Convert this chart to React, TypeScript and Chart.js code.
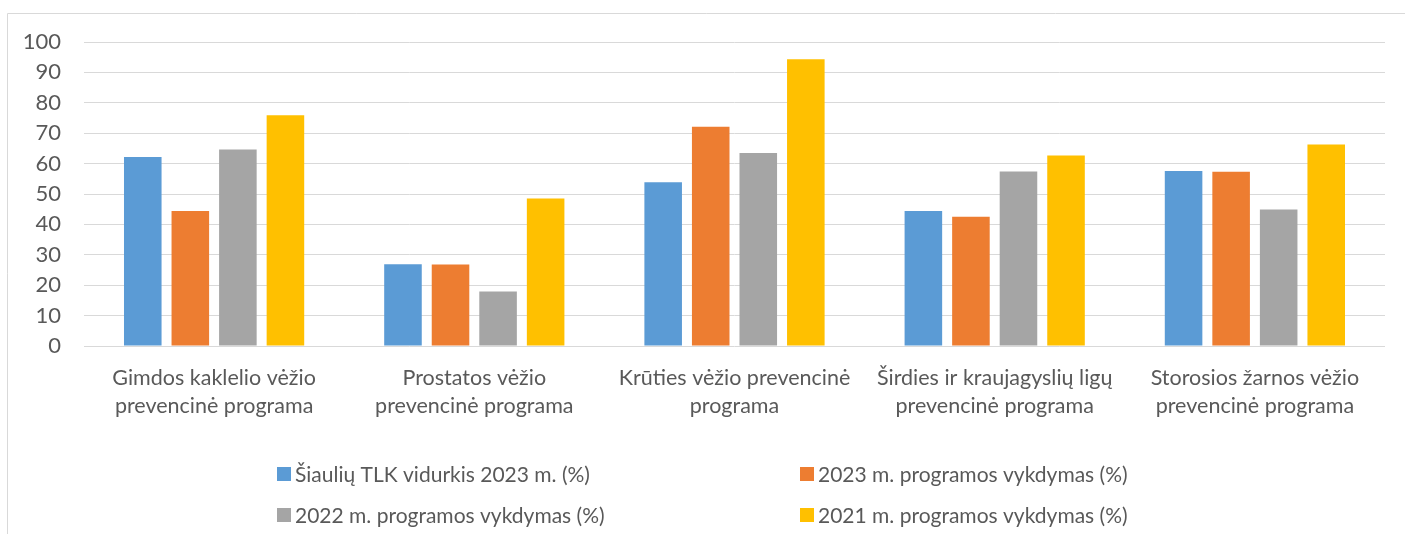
import React, { useEffect, useRef } from "react";
import { Chart, registerables } from "chart.js";

Chart.register(...registerables);

const categories: string[][] = [
  ["Gimdos kaklelio vėžio", "prevencinė programa"],
  ["Prostatos vėžio", "prevencinė programa"],
  ["Krūties vėžio prevencinė", "programa"],
  ["Širdies ir kraujagyslių ligų", "prevencinė programa"],
  ["Storosios žarnos vėžio", "prevencinė programa"],
];

const seriesLabels = [
  "Šiaulių TLK vidurkis 2023 m. (%)",
  "2023 m. programos vykdymas (%)",
  "2022 m. programos vykdymas (%)",
  "2021 m. programos vykdymas (%)",
];

const siauliaiAvg2023 = [62.2, 26.9, 53.9, 44.4, 57.6];
const execution2023 = [44.4, 26.8, 72.1, 42.5, 57.3];
const execution2022 = [64.6, 17.9, 63.5, 57.4, 44.9];
const execution2021 = [75.9, 48.5, 94.3, 62.7, 66.3];

const seriesColors = ["#5B9BD5", "#ED7D31", "#A5A5A5", "#FFC000"];

const yTicks = [0, 10, 20, 30, 40, 50, 60, 70, 80, 90, 100];

const FONT = "Lato";
const TEXT = "#595959";
const GRID = "#d9d9d9";

const framePlugin = {
  id: "frameAndLegend",
  beforeDraw(chart: any) {
    const ctx = chart.ctx;
    ctx.save();
    ctx.strokeStyle = GRID;
    ctx.lineWidth = 1;
    ctx.beginPath();
    ctx.moveTo(7.5, chart.height);
    ctx.lineTo(7.5, 13.5);
    ctx.lineTo(chart.width, 13.5);
    ctx.stroke();
    ctx.restore();
  },
  afterDraw(chart: any) {
    const ctx = chart.ctx;
    const colX = [277, 800];
    const rowY = [474, 515];
    ctx.save();
    ctx.font = `21px ${FONT}`;
    ctx.textBaseline = "middle";
    ctx.textAlign = "left";
    chart.data.datasets.forEach((ds: any, i: number) => {
      const x = colX[i % 2];
      const y = rowY[Math.floor(i / 2)];
      ctx.fillStyle = ds.backgroundColor;
      ctx.fillRect(x, y - 7, 14, 14);
      ctx.fillStyle = TEXT;
      ctx.fillText(ds.label, x + 18, y + 1);
    });
    ctx.restore();
  },
};

export default function App() {
  const ref = useRef<HTMLCanvasElement | null>(null);

  useEffect(() => {
    document.body.style.margin = "0";
    const canvas = ref.current;
    if (!canvas) return;
    const data = [siauliaiAvg2023, execution2023, execution2022, execution2021];
    const chart = new Chart(canvas, {
      type: "bar",
      data: {
        labels: categories,
        datasets: data.map((values, i) => ({
          label: seriesLabels[i],
          data: values,
          backgroundColor: seriesColors[i],
          borderWidth: 0,
          categoryPercentage: 0.731,
          barPercentage: 0.79,
        })),
      },
      options: {
        animation: false,
        responsive: false,
        maintainAspectRatio: false,
        layout: { padding: { top: 42, right: 20, bottom: 0, left: 0 } },
        plugins: {
          legend: { display: false },
          tooltip: { enabled: false },
        },
        scales: {
          x: {
            grid: { display: false, drawTicks: false },
            border: { display: false },
            ticks: {
              color: TEXT,
              font: { family: FONT, size: 21.5, lineHeight: 1.3 },
              padding: 18,
              maxRotation: 0,
              autoSkip: false,
            },
            afterFit(scale: any) {
              scale.height = 188;
            },
          },
          y: {
            min: 0,
            max: 100,
            afterBuildTicks(scale: any) {
              scale.ticks = yTicks.map((v) => ({ value: v }));
            },
            grid: { color: GRID, lineWidth: 1, drawTicks: false },
            border: { display: false },
            ticks: {
              color: TEXT,
              font: { family: FONT, size: 22 },
              padding: 23,
            },
            afterFit(scale: any) {
              scale.width = 84;
            },
          },
        },
      },
      plugins: [framePlugin],
    });
    return () => chart.destroy();
  }, []);

  return (
    <div style={{ width: 1405, height: 534 }}>
      <canvas ref={ref} width={1405} height={534} style={{ display: "block" }} />
    </div>
  );
}
